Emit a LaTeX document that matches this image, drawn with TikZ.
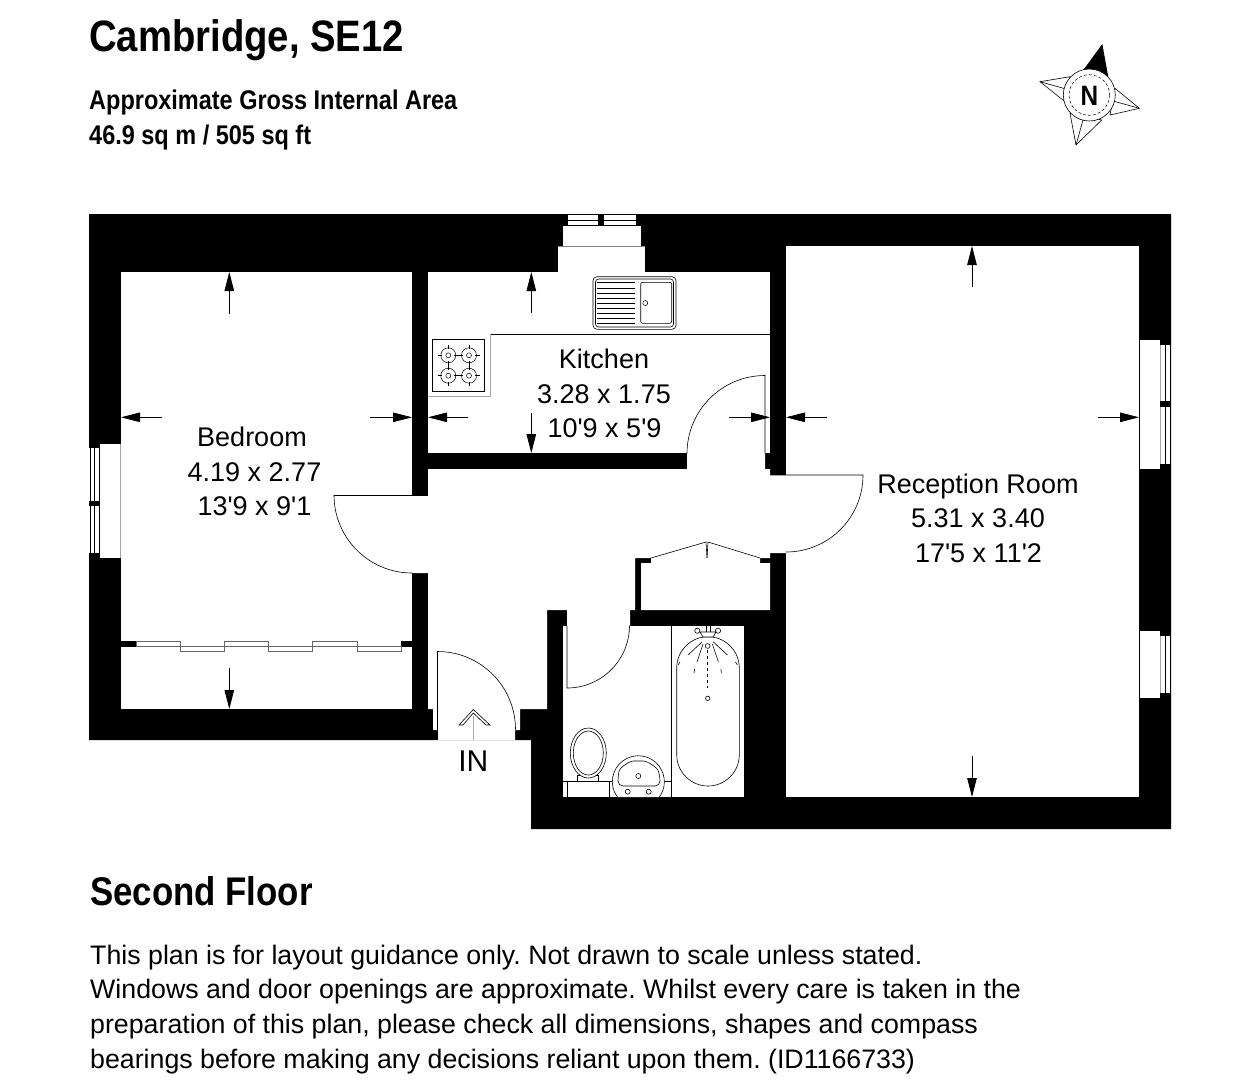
\documentclass[tikz,border=0pt]{standalone}
\usepackage{fontspec}
\setmainfont{Liberation Sans}
\newfontfamily\narrowfont[FakeStretch=0.87]{Liberation Sans}
\usetikzlibrary{arrows.meta}
\tikzset{
  roomtext/.style={anchor=base, inner sep=0pt, font=\fontsize{27}{27}\selectfont},
  notetext/.style={anchor=base west, inner sep=0pt, font=\frenchspacing\fontsize{26.75}{27}\selectfont},
  headtext/.style={anchor=base west, inner sep=0pt, font=\frenchspacing\narrowfont\bfseries\fontsize{27}{27}\selectfont},
  dimarrow/.style={-{Triangle[length=19pt,width=9.5pt]}, line width=0.8pt},
  fitting/.style={line width=0.6pt, fill=white},
  thinline/.style={line width=0.6pt},
  grayline/.style={line width=1pt, gray!70}
}
\newcommand{\ft}{\textquotesingle}
\begin{document}
\begin{tikzpicture}[x=1pt,y=-1pt]
\useasboundingbox (0,0) rectangle (1249,1080);

% walls
\fill (89,214) -- (1171,214) -- (1171,829) -- (531,829) -- (531,740) -- (89,740) -- cycle;

% rooms
\fill[white] (121,272) rectangle (412,709);
\fill[white] (428,272) rectangle (770,453);
\fill[white] (786,246) rectangle (1139,797);
\fill[white] (563,626) rectangle (744,797);
\fill[white] (428,469) -- (687,469) -- (687,453) -- (765,453) -- (765,469) -- (770,469) -- (770,475) -- (786,475) -- (786,553)
  -- (770,553) -- (770,558) -- (760,558) -- (760,563) -- (770,563) -- (770,610) -- (641,610) -- (641,563) -- (651,563) -- (651,558)
  -- (635,558) -- (635,610) -- (630,610) -- (630,626) -- (567,626) -- (567,610) -- (547,610) -- (547,709) -- (520,709) -- (520,730)
  -- (515,730) -- (515,740) -- (438,740) -- (438,730) -- (433,730) -- (433,709) -- (428,709) -- (428,573) -- (412,573) -- (412,495)
  -- (428,495) -- cycle;

% chimney
\fill[white] (558,246) rectangle (645,272);
\fill[white] (563,225) rectangle (641,246);
\fill[white] (568,215) rectangle (598,225);
\fill[white] (604,215) rectangle (636,225);
\draw[thinline] (568,220) -- (598,220);
\draw[thinline] (604,220) -- (636,220);
\draw[thinline] (563,225) -- (641,225);
\draw[thinline, gray] (558,246) -- (645,246);

% windows
\fill[white] (100,444) rectangle (121,558);
\fill[white] (89,448) rectangle (100,553);
\draw[thinline] (90,448) -- (90,553);
\draw[thinline] (94.5,448) -- (94.5,553);
\draw[thinline] (99.5,448) -- (99.5,553);
\fill (89,501) rectangle (100,506);
\draw[grayline] (120.5,444) -- (120.5,558);
\fill[white] (1140,340) rectangle (1160,469);
\fill[white] (1160,345) rectangle (1171,464);
\fill[white] (1140,631) rectangle (1160,698);
\fill[white] (1160,636) rectangle (1171,693);
\foreach \y/\z in {345/464, 636/693} {
  \draw[grayline] (1160.5,\y) -- (1160.5,\z);
  \draw[thinline] (1165.5,\y) -- (1165.5,\z);
  \draw[thinline] (1170.5,\y) -- (1170.5,\z);
}
\draw[thinline] (1139.5,340) -- (1139.5,469);
\draw[thinline] (1139.5,631) -- (1139.5,698);
\fill (1160,401) rectangle (1171,407);

% wardrobe
\fill (121,641) rectangle (136,647);
\fill (401,641) rectangle (412,647);
\foreach \x/\z in {136/180.3, 224.3/268.5, 312.5/357}
  \draw[thinline, gray!80!black] (\x,641) rectangle (\z,646.5);
\foreach \x/\z in {180.3/224.3, 268.5/312.5, 357/401}
  \draw[thinline, gray!80!black] (\x,646.5) rectangle (\z,651.5);

% doors
\draw[thinline] (334,495) -- (428,495);
\draw[thinline] (334,495) arc[start angle=180, end angle=90, radius=78];
\draw[thinline] (765,453) -- (765,375.5) arc[start angle=270, end angle=180, radius=78];
\draw[thinline] (770,475) -- (863,475) arc[start angle=0, end angle=90, radius=77];
\draw[thinline] (567,626) -- (567,688) arc[start angle=90, end angle=0, radius=62.5];
\draw[thinline] (437.5,730) -- (437.5,651.5) arc[start angle=270, end angle=360, radius=78];
\draw[thinline] (651,558) -- (706,542) -- (707,558);
\draw[thinline] (760,558) -- (708,542) -- (707,558);

% kitchen
\draw[thinline] (770,334.3) -- (490,334.3);
\draw[grayline] (490,334.3) -- (490,396.7) -- (428,396.7);
\draw[thinline] (432.3,339.3) rectangle (484.3,391.7);
\foreach \x/\y in {448.3/355.3, 469/355.3, 448.3/375.7, 469/375.7} {
  \draw[line width=0.5pt] (\x,\y) circle[radius=7.5];
  \draw[line width=0.5pt] (\x,\y) circle[radius=2.5];
  \draw[line width=0.5pt] (\x-10.5,\y) -- (\x-6,\y);
  \draw[line width=0.5pt] (\x+6,\y) -- (\x+10.5,\y);
  \draw[line width=0.5pt] (\x,\y-10.5) -- (\x,\y-6);
  \draw[line width=0.5pt] (\x,\y+6) -- (\x,\y+10.5);
}
\draw[thinline, rounded corners=4pt] (593,276.7) rectangle (676,329.3);
\draw[thinline, rounded corners=3pt] (595.5,279) rectangle (673.5,327);
\foreach \y in {282.7,287.8,...,324}
  \draw[line width=0.6pt] (597,\y) -- (635,\y);
\draw[thinline, rounded corners=2pt] (640.7,282.3) rectangle (671.7,323.3);
\draw[line width=0.5pt] (645.3,303) circle[radius=2.5];

% bathroom
\draw[thinline] (671.3,626) -- (671.3,797);
\draw[thinline] (563,781.7) -- (671.3,781.7);
\draw[thinline] (567,781.7) -- (567,797);
\draw[thinline] (609.3,781.7) -- (609.3,797);
\draw[fitting] (676.7,668) arc[start angle=180, end angle=360, radius=31.3] -- (739.3,754.7) arc[start angle=0, end angle=180, radius=31.3] -- cycle;
\draw[thinline] (706,626) -- (706,632);
\draw[thinline] (710,626) -- (710,632);
\draw[fitting] (700,632) -- (716,632) -- (713,637) -- (703,637) -- cycle;
\draw[line width=0.6pt] (697.3,630.7) circle[radius=2.6];
\draw[line width=0.6pt] (718,630.7) circle[radius=2.6];
\draw[line width=0.6pt] (707.7,646) circle[radius=2.4];
\draw[line width=0.6pt] (707.7,698.3) circle[radius=2.2];
\draw[line width=0.6pt] (702,642) -- (688,655);
\draw[line width=0.6pt] (703,644) -- (697,662);
\draw[line width=0.6pt] (713.4,642) -- (727.4,655);
\draw[line width=0.6pt] (712.4,644) -- (718.4,662);
\draw[line width=0.6pt, dashed] (707.7,650) -- (707.7,688);
\draw[line width=0.6pt] (694.5,669) -- (694,673);
\draw[line width=0.6pt] (720.9,669) -- (721.4,673);
\draw[line width=0.6pt] (680,662) -- (678,665);
\draw[line width=0.6pt] (735.4,662) -- (737.4,665);
\draw[fitting] (577.3,775) rectangle (598.7,781.7);
\draw[fitting] (588.3,753) ellipse[x radius=18, y radius=25];
\draw[line width=0.6pt] (588.3,753) ellipse[x radius=15, y radius=22];
\draw[fitting] (617.3,797) arc[start angle=144, end angle=396, radius=26];
\draw[thinline, rounded corners=5pt] (618,786) -- (618,776) .. controls (620,767) and (630,761) .. (638.3,761) .. controls (647,761) and (657,767) .. (660,776) -- (660,786) -- cycle;
\draw[line width=0.6pt] (638.3,776) circle[radius=2.5];
\draw[line width=0.6pt] (627.7,791.7) circle[radius=2.5];
\draw[line width=0.6pt] (648.7,791.7) circle[radius=2.5];

% dimension arrows
\foreach \xa/\ya/\xb/\yb in {229.3/314/229.3/272, 229.3/667.7/229.3/709, 162/417.3/121/417.3, 370/417.3/412/417.3,
  531.3/313/531.3/272, 531.3/413/531.3/453, 468/417.3/428/417.3, 729/417.3/770/417.3,
  827/417.3/786/417.3, 1098/417.3/1139/417.3, 972/287/972/246, 972/756/972/797}
  \draw[dimarrow] (\xa,\ya) -- (\xb,\yb);

% entrance arrow
\draw[line width=1.5pt, gray!70] (473.3,740) -- (473.3,716);
\draw[line width=0.6pt] (459,725) -- (473.3,709.5) -- (490,725) -- (486,725) -- (473.3,713) -- (463,725) -- cycle;
\node[roomtext, font=\fontsize{30}{30}\selectfont] (entrance) at (473.3,771) {IN};

% compass
\draw[thinline, fill=white] (1040,81.7) -- (1070,76.7) -- (1065,101.7) -- cycle;
\draw[thinline, fill=white] (1139.3,108.3) -- (1115,88.3) -- (1110,115) -- cycle;
\draw[thinline, fill=white] (1076,145) -- (1070,113.3) -- (1101.7,120) -- cycle;
\draw[line width=0.6pt] (1040,81.7) -- (1066,89);
\draw[line width=0.6pt] (1139.3,108.3) -- (1113,101);
\draw[line width=0.6pt] (1076,145) -- (1083,120);
\fill (1102.3,44) -- (1083.3,70) -- (1108.3,77) -- cycle;
\draw[thinline, fill=white] (1089.3,95) circle[radius=26];
\draw[line width=0.5pt, densely dashed] (1089.3,95) circle[radius=20.3];
\node[anchor=base, inner sep=0pt, font=\narrowfont\bfseries\fontsize{28}{28}\selectfont] (north) at (1089.3,105) {N};

% texts
\node[anchor=base west, inner sep=0pt, font=\narrowfont\bfseries\fontsize{44}{44}\selectfont] (title) at (89,51.5) {Cambridge, SE12};
\node[headtext] (area1) at (89,109.5) {Approximate Gross Internal Area};
\node[headtext] (area2) at (89,144.5) {46.9 sq m / 505 sq ft};
\node[anchor=base west, inner sep=0pt, font=\narrowfont\bfseries\fontsize{40}{40}\selectfont] (floor) at (90,905) {Second Floor};

\node[roomtext] (bedroom1) at (252,446) {Bedroom};
\node[roomtext] (bedroom2) at (254.5,481) {4.19 x 2.77};
\node[roomtext] (bedroom3) at (254.5,515) {13\ft9 x 9\ft1};
\node[roomtext] (kitchen1) at (604,368) {Kitchen};
\node[roomtext] (kitchen2) at (604,403) {3.28 x 1.75};
\node[roomtext] (kitchen3) at (604.5,437) {10\ft9 x 5\ft9};
\node[roomtext] (reception1) at (978,493) {Reception Room};
\node[roomtext] (reception2) at (978,527) {5.31 x 3.40};
\node[roomtext] (reception3) at (978.5,562) {17\ft5 x 11\ft2};

\node[notetext] (note1) at (90,964) {This plan is for layout guidance only. Not drawn to scale unless stated.};
\node[notetext] (note2) at (90,998) {Windows and door openings are approximate. Whilst every care is taken in the};
\node[notetext] (note3) at (90,1033) {preparation of this plan, please check all dimensions, shapes and compass};
\node[notetext] (note4) at (90,1068) {bearings before making any decisions reliant upon them. (ID1166733)};
\end{tikzpicture}
\end{document}
